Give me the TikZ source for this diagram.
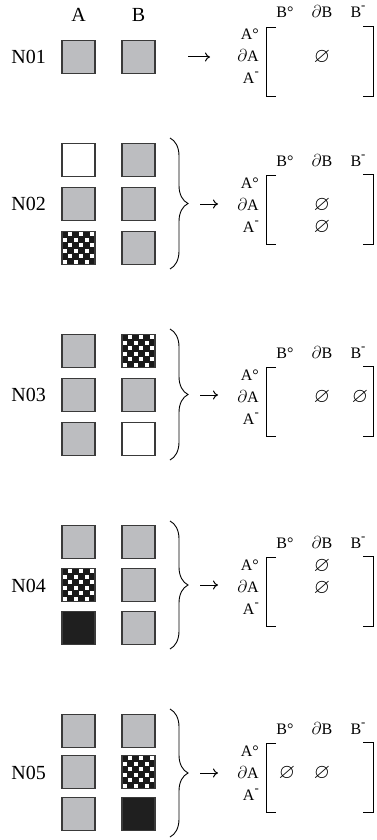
\documentclass[tikz,border=0pt]{standalone}
\usepackage{fontspec}
\usepackage{amssymb}
\setmainfont{Liberation Serif}
\usetikzlibrary{decorations.pathreplacing,arrows.meta}
\definecolor{cellgray}{HTML}{BCBDC0}
\definecolor{cellline}{HTML}{3A3A3A}
\tikzset{
  cell/.style={draw=cellline, line width=1.1pt, minimum size=33pt, inner sep=0pt, fill=cellgray},
  blankcell/.style={cell, fill=white},
  solidcell/.style={cell, fill=black!88},
  checkcell/.style={cell, fill=black!90, path picture={
      \foreach \i in {0,...,5}{
        \foreach \j in {0,2,4}{
          \pgfmathsetmacro\jj{\j+mod(\i+1,2)}
          \fill[white] ([xshift=\jj*5.5pt+0.95pt, yshift=-\i*5.5pt-0.95pt]path picture bounding box.north west)
            rectangle ++(3.6pt,-3.6pt);
        }
      }}},
  biglbl/.style={font=\fontsize{20}{20}\selectfont, inner sep=0pt},
  hdr/.style={font=\fontsize{16}{16}\selectfont, inner sep=0pt, anchor=base},
  rowlbl/.style={font=\fontsize{16}{16}\selectfont, inner sep=0pt, anchor=base east},
  emp/.style={font=\fontsize{16}{16}\selectfont, inner sep=0pt},
  brk/.style={line width=0.9pt},
  arr/.style={-{To[length=5pt,width=9pt]}, line width=1pt},
  brc/.style={decorate, decoration={brace, amplitude=18pt}, line width=0.9pt},
}
\newcommand\supbar{\raisebox{0.5em}{\scalebox{0.8}{-}}}
\newcommand\emptymark{\scalebox{1.3}{$\varnothing$}}
% one relation matrix; #1 = y of the middle row, #2 = tag for names
\newcommand\mtxpanel[2]{%
  \node[hdr] (hi#2) at (285,#1-39) {B°};
  \node[hdr] (hb#2) at (322,#1-39) {$\partial$B};
  \node[hdr] (he#2) at (358,#1-39) {B\supbar};
  \node[rowlbl] (ri#2) at (259,#1-17) {A°};
  \node[rowlbl] (rb#2) at (259,#1+5) {$\partial$A};
  \node[rowlbl] (re#2) at (259,#1+27) {A\supbar};
  \draw[brk] (276,#1-30) -- (266,#1-30) -- (266,#1+39) -- (276,#1+39);
  \draw[brk] (363,#1-31) -- (373,#1-31) -- (373,#1+39) -- (363,#1+39);
}
\begin{document}
\begin{tikzpicture}[x=1pt,y=-1pt]
\useasboundingbox (0,0) rectangle (377,840);

% column heads
\node[biglbl] (colA) at (78.5,15) {A};
\node[biglbl] (colB) at (138.5,15) {B};

% ---- N01
\node[biglbl, anchor=east] (n1) at (46,57) {N01};
\node[cell] (a1) at (78.5,57) {};
\node[cell] (b1) at (138.5,57) {};
\coordinate (s1) at (188,57);
\coordinate (e1) at (210,57);
\draw[arr] (s1) -- (e1);
\mtxpanel{57}{1}
\node[emp] (z1) at (322,57) {\emptymark};

% ---- N02
\node[biglbl, anchor=east] (n2) at (46,204) {N02};
\node[blankcell] (a2a) at (78.5,160) {};
\node[cell] (a2b) at (78.5,204) {};
\node[checkcell] (a2c) at (78.5,248) {};
\node[cell] (b2a) at (138.5,160) {};
\node[cell] (b2b) at (138.5,204) {};
\node[cell] (b2c) at (138.5,248) {};
\coordinate (bt2) at (170,138);
\coordinate (bb2) at (170,269);
\draw[brc] (bt2) -- (bb2);
\coordinate (s2) at (200,204);
\coordinate (e2) at (218,204);
\draw[arr] (s2) -- (e2);
\mtxpanel{205}{2}
\node[emp] (z2a) at (322,205) {\emptymark};
\node[emp] (z2b) at (322,227) {\emptymark};

% ---- N03
\node[biglbl, anchor=east] (n3) at (46,395) {N03};
\node[cell] (a3a) at (78.5,351) {};
\node[cell] (a3b) at (78.5,395) {};
\node[cell] (a3c) at (78.5,439) {};
\node[checkcell] (b3a) at (138.5,351) {};
\node[cell] (b3b) at (138.5,395) {};
\node[blankcell] (b3c) at (138.5,439) {};
\coordinate (bt3) at (170,329);
\coordinate (bb3) at (170,460);
\draw[brc] (bt3) -- (bb3);
\coordinate (s3) at (200,395);
\coordinate (e3) at (218,395);
\draw[arr] (s3) -- (e3);
\mtxpanel{397}{3}
\node[emp] (z3a) at (322,397) {\emptymark};
\node[emp] (z3b) at (360,397) {\emptymark};

% ---- N04
\node[biglbl, anchor=east] (n4) at (46,586) {N04};
\node[cell] (a4a) at (78.5,542) {};
\node[checkcell] (a4b) at (78.5,585) {};
\node[solidcell] (a4c) at (78.5,628) {};
\node[cell] (b4a) at (138.5,542) {};
\node[cell] (b4b) at (138.5,585) {};
\node[cell] (b4c) at (138.5,628) {};
\coordinate (bt4) at (170,521);
\coordinate (bb4) at (170,649);
\draw[brc] (bt4) -- (bb4);
\coordinate (s4) at (200,585);
\coordinate (e4) at (218,585);
\draw[arr] (s4) -- (e4);
\mtxpanel{587}{4}
\node[emp] (z4a) at (322,566) {\emptymark};
\node[emp] (z4b) at (322,588) {\emptymark};

% ---- N05
\node[biglbl, anchor=east] (n5) at (46,773) {N05};
\node[cell] (a5a) at (78.5,731) {};
\node[cell] (a5b) at (78.5,772) {};
\node[cell] (a5c) at (78.5,814) {};
\node[cell] (b5a) at (138.5,731) {};
\node[checkcell] (b5b) at (138.5,772) {};
\node[solidcell] (b5c) at (138.5,814) {};
\coordinate (bt5) at (170,709);
\coordinate (bb5) at (170,837);
\draw[brc] (bt5) -- (bb5);
\coordinate (s5) at (200,773);
\coordinate (e5) at (218,773);
\draw[arr] (s5) -- (e5);
\mtxpanel{773}{5}
\node[emp] (z5a) at (287,773) {\emptymark};
\node[emp] (z5b) at (322,773) {\emptymark};
\end{tikzpicture}
\end{document}
